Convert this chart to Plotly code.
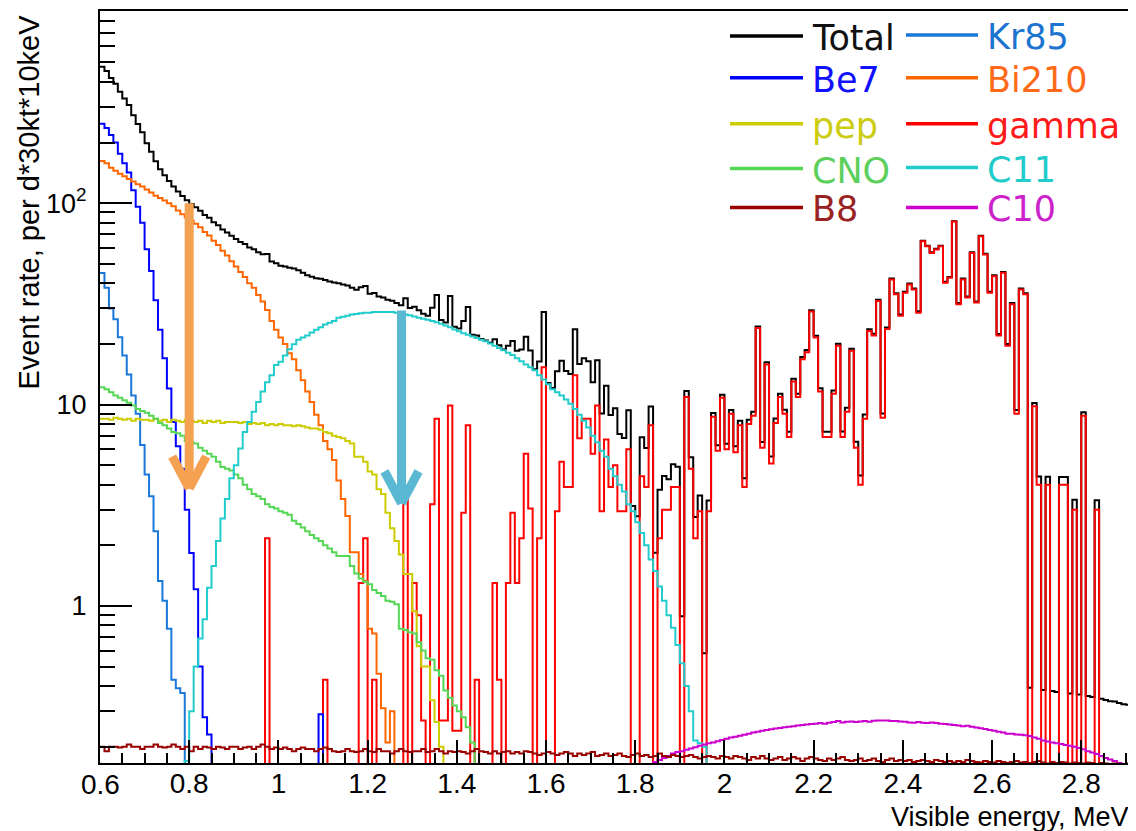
import numpy as np
import plotly.graph_objects as go

# ---------------- binning (10 keV bins) ----------------
E_MIN = 0.60
BIN_W = 0.01
N_BINS = 232
X_RANGE = [0.60, 2.916]
Y_RANGE = [0.166, 900]

# ---------------- data (events per d*30kt*10keV, one value per bin) ----------------
BE7_START = 0.60
BE7 = [248, 236, 218, 200, 176, 158, 142, 116, 96, 80,
       59, 46, 33, 23.5, 17, 12, 8.2, 6.2, 4.8, 3.0,
       1.83, 1.21, 0.5, 0.28, 0.23, 0, 0, 0, 0, 0,
       0, 0, 0, 0, 0, 0, 0, 0, 0, 0,
       0, 0, 0, 0, 0, 0, 0, 0, 0, 0.29]

KR85_START = 0.60
KR85 = [45, 38, 30, 26.5, 21.6, 17.5, 14.1, 11.1, 9.0, 6.3,
        4.5, 3.5, 2.35, 1.33, 1.06, 0.77, 0.43, 0.39, 0.37]

BI210_START = 0.60
BI210 = [162, 158, 150, 145, 140, 136, 132, 128, 124, 121,
         117, 113, 109, 106, 103, 100, 96.5, 92, 88, 85,
         82, 79, 76, 72, 69, 65, 62, 58, 55, 51.5,
         48.5, 45.5, 43, 40, 38, 35, 32.5, 29.5, 26, 23.5,
         21.5, 20, 18, 16.8, 14.8, 13.2, 11.6, 10.3, 8.9, 7.9,
         6.6, 6.0, 5.3, 4.2, 3.4, 2.8, 1.85, 1.85, 1.44, 1.33,
         0.77, 0.73, 0.46, 0.31, 0.21, 0.30]

CNO_START = 0.60
CNO = [12.2, 11.9, 11.5, 11.1, 10.8, 10.5, 10.2, 9.9, 9.5, 9.3,
       9.1, 8.8, 8.5, 8.1, 7.9, 7.6, 7.3, 7.2, 7.0, 6.6,
       6.5, 6.4, 6.1, 5.9, 5.7, 5.5, 5.2, 4.9, 4.8, 4.7,
       4.5, 4.3, 4.0, 3.8, 3.6, 3.5, 3.4, 3.2, 3.1, 3.05,
       2.95, 2.9, 2.84, 2.65, 2.55, 2.45, 2.35, 2.25, 2.17, 2.1,
       2.0, 1.93, 1.85, 1.77, 1.77, 1.77, 1.58, 1.45, 1.37, 1.32,
       1.28, 1.2, 1.16, 1.12, 1.06, 1.05, 1.02, 0.77, 0.76, 0.74,
       0.73, 0.66, 0.6, 0.55, 0.54, 0.48, 0.45, 0.38, 0.35, 0.32,
       0.3, 0.28, 0.25, 0.21]

PEP_START = 0.60
PEP = [8.5, 8.5, 8.4, 8.6, 8.5, 8.4, 8.5, 8.3, 8.5, 8.4,
       8.4, 8.3, 8.5, 8.3, 8.4, 8.2, 8.4, 8.3, 8.2, 8.4,
       8.3, 8.2, 8.3, 8.1, 8.3, 8.2, 8.3, 8.1, 8.2, 8.2,
       8.2, 8.1, 8.2, 8.0, 8.1, 8.0, 8.1, 7.9, 8.0, 7.9,
       8.0, 7.9, 7.9, 7.8, 7.9, 7.8, 7.7, 7.6, 7.6, 7.5,
       7.3, 7.2, 7.0, 6.9, 6.8, 6.6, 6.4, 5.5, 5.5, 5.2,
       4.65, 4.5, 3.8, 3.6, 2.9, 2.43, 2.1, 1.8, 1.44, 1.44,
       0.94, 0.63, 0.5, 0.5, 0.34, 0.265, 0.2]

C11_START = 0.79
C11 = [0.17, 0.3, 0.5, 0.69, 0.86, 1.23, 1.58, 2.1, 2.72, 3.4,
       4.3, 5.0, 6.05, 7.3, 8.2, 9.2, 10.3, 11.6, 12.9, 14,
       15.7, 16.3, 17.5, 18.8, 19.9, 21, 21.5, 22, 22.8, 23.5,
       24.2, 25, 25.5, 26, 27, 27.3, 27.6, 28, 28.2, 28.4,
       28.6, 28.6, 28.8, 28.8, 28.8, 28.8, 28.8, 28.6, 28.4, 28,
       27.8, 27.4, 27, 26.7, 26.4, 26, 25.6, 25.2, 24.7, 24.2,
       23.6, 23.1, 22.6, 22.2, 21.8, 21.4, 21, 20.6, 20.1, 19.6,
       19.1, 18.6, 18.1, 17.6, 17, 16.4, 15.8, 15.3, 14.8, 14,
       13.3, 12.6, 11.9, 11.5, 11.1, 10.6, 10.1, 9.5, 8.9, 8.3,
       7.7, 7.0, 6.5, 5.9, 5.5, 4.8, 4.4, 4.0, 3.7, 3.2,
       2.95, 2.6, 2.3, 2.0, 1.7, 1.49, 1.25, 1.06, 0.9, 0.78,
       0.64, 0.52, 0.4, 0.3, 0.215, 0.208, 0.2]

C10_START = 1.84
C10 = [0.168, 0.172, 0.176, 0.18, 0.185, 0.188, 0.19, 0.193, 0.196, 0.199,
       0.202, 0.205, 0.208, 0.21, 0.213, 0.216, 0.219, 0.222, 0.224, 0.227,
       0.229, 0.232, 0.235, 0.237, 0.24, 0.242, 0.244, 0.246, 0.248, 0.25,
       0.251, 0.253, 0.255, 0.256, 0.258, 0.259, 0.26, 0.262, 0.26, 0.263,
       0.265, 0.268, 0.264, 0.266, 0.267, 0.265, 0.267, 0.268, 0.266, 0.269,
       0.27, 0.27, 0.27, 0.268, 0.268, 0.267, 0.266, 0.264, 0.263, 0.265,
       0.263, 0.262, 0.264, 0.262, 0.26, 0.259, 0.258, 0.256, 0.255, 0.253,
       0.254, 0.251, 0.249, 0.247, 0.245, 0.242, 0.24, 0.237, 0.235, 0.232,
       0.232, 0.23, 0.229, 0.228, 0.226, 0.222, 0.219, 0.215, 0.212, 0.21,
       0.208, 0.206, 0.204, 0.202, 0.2, 0.197, 0.194, 0.19, 0.187, 0.184,
       0.18, 0.176, 0.173, 0.17, 0.166, 0.162, 0.158, 0.155]

B8_START = 0.60
B8 = [0.2, 0.19, 0.2, 0.2, 0.198, 0.2, 0.205, 0.2, 0.2, 0.195,
      0.2, 0.2, 0.205, 0.2, 0.198, 0.2, 0.205, 0.2, 0.195, 0.2,
      0.19, 0.2, 0.195, 0.2, 0.198, 0.195, 0.2, 0.198, 0.195, 0.2,
      0.2, 0.195, 0.198, 0.2, 0.195, 0.2, 0.205, 0.2, 0.195, 0.198,
      0.195, 0.198, 0.195, 0.19, 0.195, 0.198, 0.195, 0.195, 0.19, 0.195,
      0.198, 0.195, 0.19, 0.188, 0.19, 0.195, 0.19, 0.188, 0.19, 0.195,
      0.19, 0.188, 0.195, 0.19, 0.19, 0.185, 0.19, 0.195, 0.19, 0.188,
      0.19, 0.19, 0.195, 0.188, 0.19, 0.195, 0.19, 0.185, 0.19, 0.188,
      0.19, 0.188, 0.185, 0.19, 0.195, 0.19, 0.188, 0.185, 0.19, 0.185,
      0.188, 0.19, 0.185, 0.188, 0.185, 0.19, 0.188, 0.185, 0.182, 0.185,
      0.188, 0.185, 0.182, 0.185, 0.188, 0.185, 0.18, 0.185, 0.182, 0.185,
      0.188, 0.18, 0.182, 0.185, 0.18, 0.182, 0.185, 0.18, 0.178, 0.182,
      0.185, 0.18, 0.182, 0.178, 0.18, 0.185, 0.18, 0.178, 0.182, 0.18,
      0.178, 0.18, 0.182, 0.178, 0.175, 0.178, 0.18, 0.178, 0.175, 0.18,
      0.178, 0.175, 0.18, 0.178, 0.175, 0.172, 0.178, 0.175, 0.18, 0.175,
      0.172, 0.175, 0.178, 0.172, 0.175, 0.178, 0.175, 0.17, 0.175, 0.178,
      0.175, 0.172, 0.17, 0.175, 0.172, 0.175, 0.178, 0.172, 0.17, 0.172,
      0.175, 0.17, 0.172, 0.175, 0.17, 0.168, 0.172, 0.175, 0.17, 0.172,
      0.17, 0.172, 0.168, 0.17, 0.172, 0.17, 0.168, 0.172, 0.17, 0.168,
      0.17, 0.167, 0.17, 0.168, 0.172, 0.17, 0.168, 0.167, 0.17, 0.168,
      0.167, 0.17, 0.168, 0.166, 0.168, 0.17, 0.167, 0.168, 0.166, 0.168,
      0.17, 0.167, 0.165, 0.168, 0.166, 0.168, 0.167, 0.165, 0.167, 0.166,
      0.165, 0.167, 0.166, 0.164, 0.166, 0.165, 0.163, 0.165, 0.164, 0.163,
      0.165, 0.164]

GAMMA_START = 0.60
GAMMA = [0, 0, 0, 0, 0, 0, 0, 0, 0, 0,
         0, 0, 0, 0, 0, 0, 0, 0, 0, 0,
         0, 0, 0, 0, 0, 0, 0, 0, 0, 0,
         0, 0, 0, 0, 0, 0, 0, 2.17, 0, 0,
         0, 0, 0, 0, 0, 0, 0, 0, 0, 0,
         0.43, 0, 0, 0, 0, 0, 0, 0, 1.3, 2.17,
         0, 0.43, 0, 0, 0, 0, 0, 0, 3.37, 0,
         1.3, 0.9, 0.27, 0, 3.2, 8.5, 0.27, 0.27, 9.9, 0.24,
         0.24, 2.9, 7.9, 0, 0.43, 0, 0, 0, 1.3, 0.43,
         0, 1.3, 2.9, 1.3, 2.17, 5.7, 3.05, 0, 2.17, 15.3,
         0, 0, 2.95, 5.2, 3.9, 3.9, 14, 6.8, 8.5, 8.5,
         5.7, 9.9, 2.95, 6.7, 3.9, 5.0, 2.95, 2.95, 6.0, 0,
         0, 4.4, 3.9, 7.9, 0, 2.17, 3.0, 3.0, 3.9, 3.9,
         0, 10.9, 4.8, 2.17, 2.95, 0, 2.95, 8.7, 5.9, 10.8,
         6.0, 9.0, 5.8, 7.9, 3.9, 8.0, 8.8, 24, 6.1, 15.8,
         5.1, 8.1, 10.9, 9.0, 6.9, 13, 10.9, 16.8, 18.2, 29,
         21.5, 11.6, 6.9, 6.9, 11.3, 19.6, 6.9, 9.2, 18.5, 6.1,
         4.0, 8.5, 23.2, 22, 32.7, 8.6, 23.7, 41.8, 35.3, 27.6,
         35.9, 39.5, 37.3, 28.6, 64.7, 61.1, 56.6, 58.9, 61.1, 40.3,
         42.6, 81, 31.5, 41.8, 34, 56.6, 32.1, 68.5, 55.6, 35.9,
         43.4, 22, 45.1, 19.6, 31.5, 9.0, 37.3, 35.3, 0, 9.8,
         4.0, 0, 4.0, 0, 0, 4.0, 4.0, 0, 3.0, 0,
         8.8, 0, 0, 3.0, 0, 0, 0, 0, 0, 0,
         0, 0]

X_TICKS = [0.6, 0.8, 1.0, 1.2, 1.4, 1.6, 1.8, 2.0, 2.2, 2.4, 2.6, 2.8]
X_TICK_TEXT = ["0.6", "0.8", "1", "1.2", "1.4", "1.6", "1.8", "2", "2.2", "2.4", "2.6", "2.8"]
Y_TICKS = [1, 10, 100]
Y_TICK_TEXT = ["1", "10", "10<sup>2</sup>"]

# ---------------- styles ----------------
COLORS = {
    "Total": "#000000", "Be7": "#0000ff", "pep": "#cccc00", "CNO": "#55d655",
    "B8": "#990000", "Kr85": "#1a78d8", "Bi210": "#ff6600", "gamma": "#ff0000",
    "C11": "#22cccc", "C10": "#cc00cc",
}
TEXT_COLORS = {
    "Total": "#111111", "Be7": "#1111ff", "pep": "#cccc11", "CNO": "#5ccf5c",
    "B8": "#992222", "Kr85": "#1c74d0", "Bi210": "#ff6a1a", "gamma": "#ff1a1a",
    "C11": "#22cccc", "C10": "#cc22cc",
}


def place(start, vals):
    arr = np.zeros(N_BINS)
    i0 = int(round((start - E_MIN) / BIN_W))
    arr[i0:i0 + len(vals)] = vals[:N_BINS - i0]
    return arr


comp = {
    "Be7": place(BE7_START, BE7),
    "Kr85": place(KR85_START, KR85),
    "Bi210": place(BI210_START, BI210),
    "CNO": place(CNO_START, CNO),
    "pep": place(PEP_START, PEP),
    "C11": place(C11_START, C11),
    "C10": place(C10_START, C10),
    "B8": place(B8_START, B8),
    "gamma": place(GAMMA_START, GAMMA),
}
total = sum(comp.values())

edges = E_MIN + BIN_W * np.arange(N_BINS + 1)


def step_trace(name, arr, width=2.0):
    y = np.where(arr > 0, arr, 1e-3)
    y = np.append(y, y[-1])
    return go.Scatter(x=edges, y=y, mode="lines", name=name, showlegend=False,
                      line=dict(color=COLORS[name], width=width, shape="hv"),
                      hoverinfo="skip")


fig = go.Figure()
fig.add_trace(step_trace("Total", total))
for nm in ["gamma", "Kr85", "Be7", "Bi210", "pep", "CNO", "C11", "C10", "B8"]:
    fig.add_trace(step_trace(nm, comp[nm]))

# ---------------- layout (page has an 8 px body margin) ----------------
PAGE_OFF = 8
W, H = 1136 - PAGE_OFF, 831 - PAGE_OFF
PLOT_L, PLOT_R, PLOT_T, PLOT_B = 100, 1133, 9, 763      # page pixels of the frame
ML, MT = PLOT_L - PAGE_OFF, PLOT_T - PAGE_OFF
MR = W - (PLOT_R - PAGE_OFF)
MB = H - (PLOT_B - PAGE_OFF)
PW, PH = PLOT_R - PLOT_L, PLOT_B - PLOT_T

y_minor = [k * 10.0 ** p for p in range(-1, 3) for k in range(2, 10)]
y_minor = [v for v in y_minor if Y_RANGE[0] < v < Y_RANGE[1]]
x_minor = [round(0.6 + 0.05 * k, 2) for k in range(0, 47)]
x_minor = [v for v in x_minor if v not in X_TICKS and v <= X_RANGE[1]]

AX_FONT = dict(family="Liberation Sans, Arial, sans-serif", size=27, color="black")
XLAB_FONT = dict(AX_FONT, size=28)

# first x label is drawn as an annotation so that it stays centred on its tick
x_tick_text_axis = [""] + X_TICK_TEXT[1:]

fig.update_layout(
    width=W, height=H,
    margin=dict(l=ML, r=MR, t=MT, b=MB),
    paper_bgcolor="white", plot_bgcolor="white",
    showlegend=False,
    xaxis=dict(range=X_RANGE, tickmode="array", tickvals=X_TICKS, ticktext=x_tick_text_axis,
               ticks="inside", ticklen=23, tickwidth=2, tickcolor="black",
               showline=True, linewidth=2, linecolor="black", mirror=True,
               showgrid=False, zeroline=False, tickfont=XLAB_FONT,
               ticklabelstandoff=-6,
               minor=dict(tickmode="array", tickvals=x_minor, ticks="inside", ticklen=10,
                          tickwidth=2, tickcolor="black", showgrid=False)),
    yaxis=dict(type="log", range=[np.log10(Y_RANGE[0]), np.log10(Y_RANGE[1])],
               tickmode="array", tickvals=Y_TICKS, ticktext=Y_TICK_TEXT,
               ticks="inside", ticklen=32, tickwidth=2, tickcolor="black",
               showline=True, linewidth=2, linecolor="black", mirror=True,
               showgrid=False, zeroline=False, tickfont=AX_FONT,
               ticklabelstandoff=6,
               minor=dict(tickmode="array", tickvals=y_minor, ticks="inside", ticklen=15,
                          tickwidth=2, tickcolor="black", showgrid=False)),
)


def px_x(X):
    return (X - PLOT_L) / PW


def px_y(Y):
    return (PLOT_B - Y) / PH


annotations = []
shapes = []

annotations.append(dict(text=X_TICK_TEXT[0], xref="x", yref="paper",
                        x=X_TICKS[0], y=px_y(785), xanchor="center", yanchor="middle",
                        showarrow=False, font=XLAB_FONT))

# axis titles (ROOT style, right/top aligned)
annotations.append(dict(text="Visible energy, MeV", xref="paper", yref="paper",
                        x=px_x(1131), y=px_y(817), xanchor="right", yanchor="middle",
                        showarrow=False, font=dict(AX_FONT, size=27)))
annotations.append(dict(text="Event rate, per d*30kt*10keV", xref="paper", yref="paper",
                        x=px_x(29), y=px_y(11), xanchor="center", yanchor="top",
                        textangle=-90, showarrow=False, font=dict(AX_FONT, size=29)))

# legend (two columns, line samples + coloured labels)
LEG_LEFT = [("Total", 34), ("Be7", 76), ("pep", 122), ("CNO", 167), ("B8", 206)]
LEG_RIGHT = [("Kr85", 33), ("Bi210", 76), ("gamma", 122), ("C11", 166), ("C10", 206)]
for entries, (lx0, lx1, tx) in [(LEG_LEFT, (730, 803, 810)), (LEG_RIGHT, (906, 978, 985))]:
    for nm, ly in entries:
        shapes.append(dict(type="line", xref="paper", yref="paper",
                           x0=px_x(lx0), x1=px_x(lx1), y0=px_y(ly), y1=px_y(ly),
                           line=dict(color=COLORS[nm], width=3.5)))
        annotations.append(dict(text=nm, xref="paper", yref="paper",
                                x=px_x(tx), y=px_y(ly + 2), xanchor="left", yanchor="middle",
                                showarrow=False,
                                font=dict(family="DejaVu Sans, sans-serif", size=35,
                                          color=TEXT_COLORS[nm])))

# highlight arrows (shaft in data coordinates, chevron in pixels around the tip)
ARROWS = [
    dict(x=0.80, y_top=100.0, y_tip=3.83, color="#f5a152"),
    dict(x=1.276, y_top=29.3, y_tip=3.23, color="#5bb8d2"),
]
for a in ARROWS:
    shapes.append(dict(type="line", xref="x", yref="y", x0=a["x"], x1=a["x"],
                       y0=a["y_tip"] * 1.03, y1=a["y_top"],
                       line=dict(color=a["color"], width=9)))
    for dx in (-17, 17):
        shapes.append(dict(type="line", xref="x", yref="y",
                           xsizemode="pixel", ysizemode="pixel",
                           xanchor=a["x"], yanchor=a["y_tip"],
                           x0=0, x1=dx, y0=0, y1=32,
                           line=dict(color=a["color"], width=9)))
    shapes.append(dict(type="circle", xref="x", yref="y",
                       xsizemode="pixel", ysizemode="pixel",
                       xanchor=a["x"], yanchor=a["y_tip"],
                       x0=-4.5, x1=4.5, y0=-1, y1=8,
                       fillcolor=a["color"], line=dict(width=0)))

fig.update_layout(annotations=annotations, shapes=shapes)

fig.write_html("out.html")
